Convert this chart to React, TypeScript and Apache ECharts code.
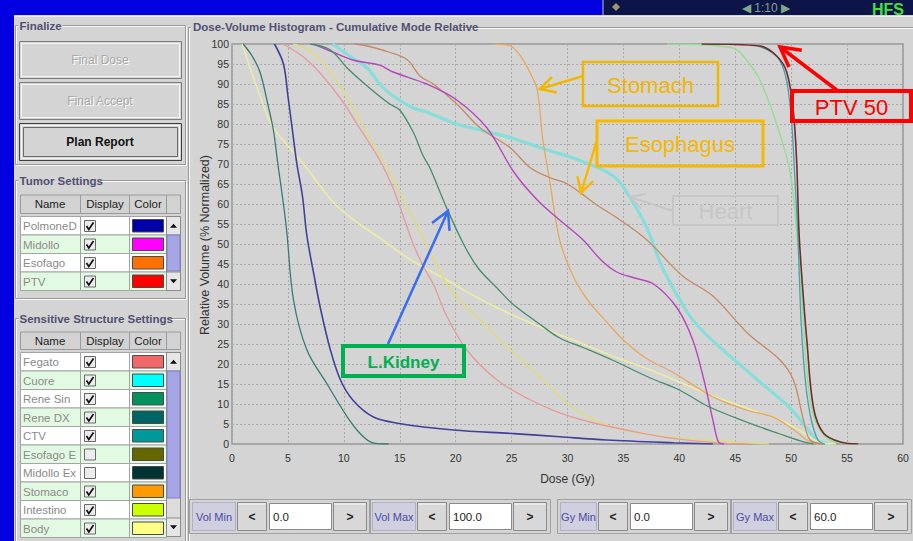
import React, { useEffect, useRef } from "react";
import * as echarts from "echarts";

// ---------------- DATA ----------------
const doseTicksMax = 60;
const volTicksMax = 100;

const renDxData = [[1.0,100],[1.8,97],[2.5,93],[3.2,85],[3.7,78.5],[4.1,70],[4.6,60],[4.9,53],[5.5,36],[6.7,23.5],[8.5,15],[10.3,6.8],[11.5,2.5],[12.6,0.3],[14,0]];
const polmoneData = [[3.8,100],[4.6,95],[5,87],[5.4,78.5],[5.8,70],[6.3,62],[6.7,52],[7.3,42.7],[7.9,34],[8.8,23.5],[9.7,16],[10.8,11],[12.6,6.8],[14.8,5.2],[19.8,3.5],[25.2,2.6],[29.3,1.8],[33.5,1.0],[39.5,0.3],[43,0]];
const bodyData = [[0.9,100],[2,91],[3.5,80],[5,74.5],[6.4,70],[9.2,60],[11.4,55],[13.2,51.5],[16,46],[19.2,41],[22,36.5],[24.5,33],[27.5,29.3],[30.5,26],[34,22],[37.4,18.5],[40,15.5],[43,12],[46,9],[49,6],[51,3],[52.5,0.5],[54,0]];
const fegatoData = [[4.5,100],[5.2,99],[6.5,96.5],[7.9,92.7],[9.8,86],[11.4,79],[12.1,76],[13.2,71],[14.4,64],[16.2,50],[17.1,44.5],[18,40],[19.2,32],[21,23.5],[23.7,16],[26.7,11],[29.3,7.8],[32,5.5],[36.5,2.8],[40,1.2],[43.4,0.3],[46,0]];
const intestinoData = [[5.5,100],[6.5,99],[7.9,96],[10,88],[12,78],[13.9,69],[15.5,60],[17.4,50],[19.2,40],[20.7,35],[22.5,30],[25.3,22.5],[28.2,15],[30,10],[32,6.5],[35,3.5],[40,1.5],[45,0.5],[48,0]];
const renSinData = [[7,100],[8.8,98.5],[10.3,94],[12.3,89],[14.1,85],[15,83.5],[16.2,78],[17.1,72],[17.7,69],[19.2,59],[20.7,50],[22,44],[23.7,39],[25.1,35],[27.5,30],[29.3,26.5],[31.5,24],[34,21],[37.4,16.5],[40,13.5],[42.5,9.5],[46,5.5],[49,2.5],[50.8,0.8],[52,0]];
const stomacoData = [[23.5,100],[24.9,99.5],[25.8,97],[26.8,92],[27.3,88.5],[27.8,76],[28.4,66],[29.3,51],[30.5,42],[31.8,36],[33.5,30.5],[35,26],[37,21.5],[39.5,17.8],[43,11.8],[46,8.5],[48.4,6.7],[50.5,3],[51.4,1],[52.5,0]];
const esofagoData = [[11,100],[12.1,99.5],[14,98],[15.7,96],[16.8,92],[18,90],[20.1,85],[22.2,79],[24.9,74],[26.7,69],[28.5,66.5],[30,65],[32.5,60],[34.7,56],[37.1,51],[40.3,42],[43,37],[46.1,27.7],[49,21],[50.2,16],[51.1,6],[51.7,1],[53,0]];
const midolloData = [[7.3,100],[9,98],[10.8,96],[13.2,94.7],[14.4,93],[17.4,90],[20.1,86],[22.8,79],[25.2,68],[27.3,61],[29.3,56],[31.4,51],[33,46],[34.4,43],[36,41.5],[37.7,40],[39.8,34],[41.2,26],[42.2,16],[43,6],[43.5,0.5],[44,0]];
const cuoreData = [[9,100],[10.5,97],[12.1,94],[13.2,90],[14.4,87],[16.2,84],[17.4,83],[20.1,80],[22.2,78.5],[25,76.5],[28.2,73.5],[31,71],[34.1,67],[35.5,62],[37.1,54],[38.5,44],[40.7,33],[42,28.5],[43.9,23.5],[47,16],[49.9,9],[51.4,4],[52.3,1],[53.5,0]];
const ptvData = [[42,100],[47.2,99.5],[48.7,97],[49.6,93],[50.2,83],[50.5,70],[50.7,53],[51,40],[51.4,26],[52,9],[52.9,2.7],[54.4,0.5],[56,0]];
const greenData = [[38.9,100],[44.8,99],[46,96],[47.2,91],[48.7,80],[49.9,68],[50.5,53],[51,35],[51.4,18],[52,7],[53,2],[54,0.5],[56,0]];
const ctvData = [[47,99.5],[48.7,97],[49.5,92],[50,82],[50.3,68],[50.6,52],[50.9,30],[51.3,15],[51.8,6],[52.4,1],[53,0]];

const tumorNames = ["PolmoneDX", "Midollo", "Esofago", "PTV"];
const tumorColors = ["#0000a8", "#ff00ff", "#ff7000", "#ff0000"];
const tumorDisplay = [true, true, true, true];

const sensNames = ["Fegato", "Cuore", "Rene Sin", "Rene DX", "CTV", "Esofago Ex", "Midollo Ext", "Stomaco", "Intestino", "Body"];
const sensColors = ["#f06868", "#00ffff", "#00935e", "#006464", "#00999a", "#666600", "#003333", "#ff9900", "#ccff00", "#ffff88"];
const sensDisplay = [true, true, true, true, true, false, false, true, true, true];

const controlLabels = ["Vol Min", "Vol Max", "Gy Min", "Gy Max"];
const controlValues = ["0.0", "100.0", "0.0", "60.0"];

const finalizeButtons = ["Final Dose", "Final Accept", "Plan Report"];

// ---------------- STYLE ----------------
const PANEL = "#d4d4d4";
const UI_FONT = "'Liberation Sans Narrow','Arial Narrow','Liberation Sans',Arial,sans-serif";
const ANN_FONT = "'Liberation Sans',Arial,sans-serif";

const seriesDefs = [
  { name: "Cuore", data: cuoreData, color: "#86dedb", width: 3.2 },
  { name: "Body", data: bodyData, color: "#ececa6", width: 1.6 },
  { name: "Intestino", data: intestinoData, color: "#e0dc7a", width: 1.5 },
  { name: "Fegato", data: fegatoData, color: "#e69a9a", width: 1.3 },
  { name: "Stomaco", data: stomacoData, color: "#e6a860", width: 1.3 },
  { name: "Esofago", data: esofagoData, color: "#c48a66", width: 1.3 },
  { name: "Midollo", data: midolloData, color: "#b448bc", width: 1.4 },
  { name: "Rene Sin", data: renSinData, color: "#478c6c", width: 1.3 },
  { name: "Rene DX", data: renDxData, color: "#347c70", width: 1.3 },
  { name: "PolmoneDX", data: polmoneData, color: "#40409c", width: 1.6 },
  { name: "Target", data: greenData, color: "#94de94", width: 1.4 },
  { name: "CTV", data: ctvData, color: "#48a0b0", width: 1.3 },
  { name: "PTV", data: ptvData, color: "#6e2c2c", width: 1.6 },
];

function buildGraphics() {
  const els: any[] = [];
  const R = (x: number, y: number, w: number, h: number, fill: string, stroke?: string, lw = 1, z = -5) =>
    els.push({ type: "rect", z, silent: true, shape: { x, y, width: w, height: h }, style: { fill, stroke: stroke || "none", lineWidth: lw } });
  const L = (x1: number, y1: number, x2: number, y2: number, stroke: string, lw = 1, z = -5) =>
    els.push({ type: "line", z, silent: true, shape: { x1, y1, x2, y2 }, style: { stroke, lineWidth: lw } });
  const T = (x: number, y: number, text: string, o: any = {}) => {
    const style: any = {
      text, fill: o.color || "#222", fontSize: o.size || 11, fontFamily: o.family || UI_FONT,
      fontWeight: o.weight || "normal", textAlign: o.align || "left", textVerticalAlign: "middle",
    };
    if (o.width) { style.width = o.width; style.overflow = "truncate"; style.ellipsis = ""; }
    els.push({ type: "text", z: o.z ?? -4, silent: true, x, y, rotation: o.rotation || 0, style });
  };
  const P = (points: number[][], stroke: string, lw: number, z = -4, fill = "none") =>
    els.push({ type: "polyline", z, silent: true, shape: { points }, style: { stroke, lineWidth: lw, fill } });
  const PG = (points: number[][], fill: string, z = -4) =>
    els.push({ type: "polygon", z, silent: true, shape: { points }, style: { fill } });

  // backgrounds
  R(0, 0, 913, 541, "#0000e0", undefined, 1, -20);
  R(14, 15, 899, 526, PANEL, undefined, 1, -19);
  R(603, 0, 310, 15, "#0c1448", undefined, 1, -18);
  L(603, 0, 603, 15, "#c0c0c0", 1, -17);
  PG([[612, 7], [616, 3], [620, 7], [616, 11]], "#9a9a70", -17);
  T(766, 8, "◀ 1:10 ▶", { color: "#7fa88a", size: 12, family: ANN_FONT, align: "center", z: -16 });
  T(872, 9, "HFS", { color: "#40e040", size: 16, weight: "bold", family: ANN_FONT, z: -16 });
  L(14, 16.5, 913, 16.5, "#eeeeee", 1, -17);

  // etched group box
  const group = (x: number, y: number, w: number, h: number, title: string, tw: number) => {
    R(x + 1, y + 1, w, h, "none", "#f8f8f8", 1, -10);
    R(x, y, w, h, "none", "#9a9a9a", 1, -10);
    R(x + 3, y - 7, tw, 14, PANEL, undefined, 1, -9);
    T(x + 4, y, title, { color: "#505072", size: 11.5, weight: "bold", z: -8 });
  };
  group(15.5, 25.5, 170, 139, "Finalize", 44);
  group(15.5, 180.5, 170, 118, "Tumor Settings", 82);
  group(15.5, 318.5, 170, 240, "Sensitive Structure Settings", 150);
  // chart group
  R(189.5, 28.5, 740, 600, "none", "#f8f8f8", 1, -10);
  R(188.5, 27.5, 740, 600, "none", "#9a9a9a", 1, -10);
  R(191, 20, 270, 14, PANEL, undefined, 1, -9);
  T(193, 27, "Dose-Volume Histogram - Cumulative Mode Relative", { color: "#505072", size: 11.5, weight: "bold", z: -8 });

  // y-axis title
  T(205, 245, "Relative Volume (% Normalized)", { color: "#333", size: 12.5, align: "center", rotation: Math.PI / 2, z: -3 });

  // finalize buttons
  const btnY = [41.5, 82.5, 123.5];
  finalizeButtons.forEach((b, i) => {
    const y = btnY[i];
    const active = i === 2;
    R(19.5, y, 162, 37, PANEL, active ? "#404040" : "#7c7c7c", 1, -7);
    R(21.5, y + 2, 158, 33, "none", "#f6f6f6", 1, -7);
    if (active) R(23.5, y + 4, 154, 29, "none", "#6a6a6a", 1, -7);
    if (!active) T(101, y + 19.5, b, { color: "#ffffff", size: 12, align: "center", z: -6 });
    T(100, y + 18.5, b, { color: active ? "#111" : "#a8a8a8", size: 12, weight: active ? "bold" : "normal", align: "center", z: -6 });
  });

  // tables
  const table = (headerTop: number, rowTop: number, rowH: number, names: string[], colors: string[], disp: boolean[], thumbTop: number, thumbBot: number, downTop: number) => {
    const hh = rowTop - headerTop - 3;
    R(20.5, headerTop, 60, hh, "#d2d2d2", "#9a9a9a", 1, -7);
    R(80.5, headerTop, 49, hh, "#d2d2d2", "#9a9a9a", 1, -7);
    R(129.5, headerTop, 37, hh, "#d2d2d2", "#9a9a9a", 1, -7);
    R(166.5, headerTop, 14, hh, "#d2d2d2", "#9a9a9a", 1, -7);
    T(50, headerTop + hh / 2, "Name", { size: 11.5, align: "center", color: "#222", z: -6 });
    T(105, headerTop + hh / 2, "Display", { size: 11.5, align: "center", color: "#222", z: -6 });
    T(148, headerTop + hh / 2, "Color", { size: 11.5, align: "center", color: "#222", z: -6 });
    names.forEach((n, i) => {
      const y = rowTop + i * rowH;
      const fill = i % 2 === 0 ? "#ffffff" : "#e2fae2";
      R(20.5, y, 60, rowH, fill, "#a4a4a4", 1, -7);
      T(23, y + rowH / 2 + 0.5, n, { size: 11.5, color: "#8a8a8a", z: -6, width: 56 });
      R(80.5, y, 49, rowH, fill, "#a4a4a4", 1, -7);
      R(84.5, y + 4, 11, 11, "#ececec", "#6a6a6a", 1, -6);
      if (disp[i]) P([[86.5, y + 9.5], [88.8, y + 13], [93.5, y + 6]], "#111", 1.7, -5);
      R(129.5, y, 37, rowH, fill, "#a4a4a4", 1, -7);
      R(132.5, y + 3, 31, rowH - 6, colors[i], "#4a4a4a", 1, -6);
    });
    // scrollbar
    R(166.5, rowTop, 14, downTop - rowTop + rowH, "#dcdcdc", "#8a8a8a", 1, -7);
    R(166.5, rowTop, 14, rowH, "#e6e6e6", "#8a8a8a", 1, -6);
    PG([[170, rowTop + rowH / 2 + 2], [173.5, rowTop + rowH / 2 - 2], [177, rowTop + rowH / 2 + 2]], "#111", -5);
    R(167, thumbTop, 13, thumbBot - thumbTop, "#a6a6e6", "#8080c0", 1, -6);
    R(166.5, downTop, 14, rowH, "#e6e6e6", "#8a8a8a", 1, -6);
    PG([[170, downTop + rowH / 2 - 2], [173.5, downTop + rowH / 2 + 2], [177, downTop + rowH / 2 - 2]], "#111", -5);
  };
  table(195, 216.5, 18.5, tumorNames, tumorColors, tumorDisplay, 235, 271, 272);
  table(332, 352.5, 18.5, sensNames, sensColors, sensDisplay, 371, 498, 518);

  // bottom controls
  const ctrlX = [192, 372, 560, 733];
  const fieldW = [62, 62, 62, 62];
  controlLabels.forEach((lab, i) => {
    const x = ctrlX[i];
    const y = 502.5;
    const h = 28;
    const lw = i === 2 ? 36 : 43;
    R(x - 2.5, y - 3, lw + 36 + fieldW[i] + 40, h + 6, "none", "#a0a0a0", 1, -7);
    R(x + 0.5, y, lw, h, "#cfcfe0", "#b0b0c8", 1, -7);
    T(x + lw / 2 + 0.5, y + h / 2, lab, { size: 11, color: "#4a4aa0", align: "center", z: -6 });
    const bx = x + lw + 2;
    R(bx + 0.5, y, 29, h, "#d8d8d8", "#8a8a8a", 1, -7);
    L(bx + 1.5, y + 1.5, bx + 28.5, y + 1.5, "#f8f8f8", 1, -6);
    T(bx + 15, y + h / 2, "<", { size: 12, weight: "bold", color: "#222", align: "center", family: ANN_FONT, z: -6 });
    const fx = bx + 32;
    R(fx + 0.5, y + 1, fieldW[i], h - 2, "#ffffff", "#8a8a8a", 1, -7);
    T(fx + 4, y + h / 2, controlValues[i], { size: 11.5, color: "#222", z: -6 });
    const gx = fx + fieldW[i] + 2;
    R(gx + 0.5, y, 33, h, "#d8d8d8", "#8a8a8a", 1, -7);
    L(gx + 1.5, y + 1.5, gx + 32.5, y + 1.5, "#f8f8f8", 1, -6);
    T(gx + 17, y + h / 2, ">", { size: 12, weight: "bold", color: "#222", align: "center", family: ANN_FONT, z: -6 });
  });

  // ---- annotations (on top) ----
  const arrow = (x1: number, y1: number, x2: number, y2: number, color: string, lw: number, head: number) => {
    const a = Math.atan2(y2 - y1, x2 - x1);
    const p1 = [x2 - head * Math.cos(a - 0.5), y2 - head * Math.sin(a - 0.5)];
    const p2 = [x2 - head * Math.cos(a + 0.5), y2 - head * Math.sin(a + 0.5)];
    L(x1, y1, x2, y2, color, lw, 100);
    P([p1, [x2, y2], p2], color, lw, 100);
  };
  const box = (x: number, y: number, w: number, h: number, color: string, lw: number, text: string, size: number, weight = "normal") => {
    R(x, y, w, h, "none", color, lw, 100);
    T(x + w / 2, y + h / 2 + 1, text, { color, size, weight, align: "center", family: ANN_FONT, z: 101 });
  };
  box(583, 62, 135, 44, "#f2b600", 2.5, "Stomach", 22);
  arrow(583, 76, 540, 89, "#f2b600", 2.5, 17);
  box(597, 121, 166, 45, "#f7b800", 3, "Esophagus", 22);
  arrow(597, 140, 581, 193, "#f7b800", 2.5, 17);
  box(673, 196, 105, 29, "#c6c6c6", 2, "Heart", 22);
  arrow(673, 211, 630, 197, "#c6c6c6", 2, 16);
  box(792, 91, 119, 30, "#ff0000", 4, "PTV 50", 22);
  arrow(838, 91, 780, 47, "#ff0000", 3.5, 22);
  box(343, 346, 121, 30, "#00b050", 4, "L.Kidney", 17, "bold");
  arrow(388, 344, 448, 211, "#3a6cf0", 2.5, 20);

  return els;
}

export default function App() {
  const ref = useRef<HTMLDivElement>(null);
  useEffect(() => {
    if (!ref.current) return;
    const chart = echarts.init(ref.current, undefined, { renderer: "svg" });
    chart.setOption({
      animation: false,
      backgroundColor: PANEL,
      grid: { left: 232, top: 44, width: 671, height: 400, show: true, borderColor: "#959595", borderWidth: 1.5, backgroundColor: "transparent" },
      xAxis: {
        type: "value", min: 0, max: doseTicksMax, interval: 5,
        name: "Dose (Gy)", nameLocation: "middle", nameGap: 29,
        nameTextStyle: { fontSize: 12, color: "#333", fontFamily: UI_FONT },
        axisLine: { show: false }, axisTick: { show: false },
        axisLabel: { margin: 8, fontSize: 10.5, color: "#333", fontFamily: UI_FONT },
        splitLine: { show: true, lineStyle: { color: "#ababab", type: [2, 2], width: 1 } },
      },
      yAxis: {
        type: "value", min: 0, max: volTicksMax, interval: 5,
        axisLine: { show: false }, axisTick: { show: false },
        axisLabel: { margin: 3, fontSize: 10.5, color: "#333", fontFamily: UI_FONT },
        splitLine: { show: true, lineStyle: { color: "#ababab", type: [2, 2], width: 1 } },
      },
      series: seriesDefs.map((d) => ({
        type: "line", name: d.name, data: d.data, showSymbol: false, silent: true,
        smooth: 0.35,
        lineStyle: { color: d.color, width: d.width }, itemStyle: { color: d.color },
      })),
      graphic: { elements: buildGraphics() },
    });
    return () => chart.dispose();
  }, []);
  return <div ref={ref} style={{ position: "fixed", left: 0, top: 0, width: 913, height: 541 }} />;
}
